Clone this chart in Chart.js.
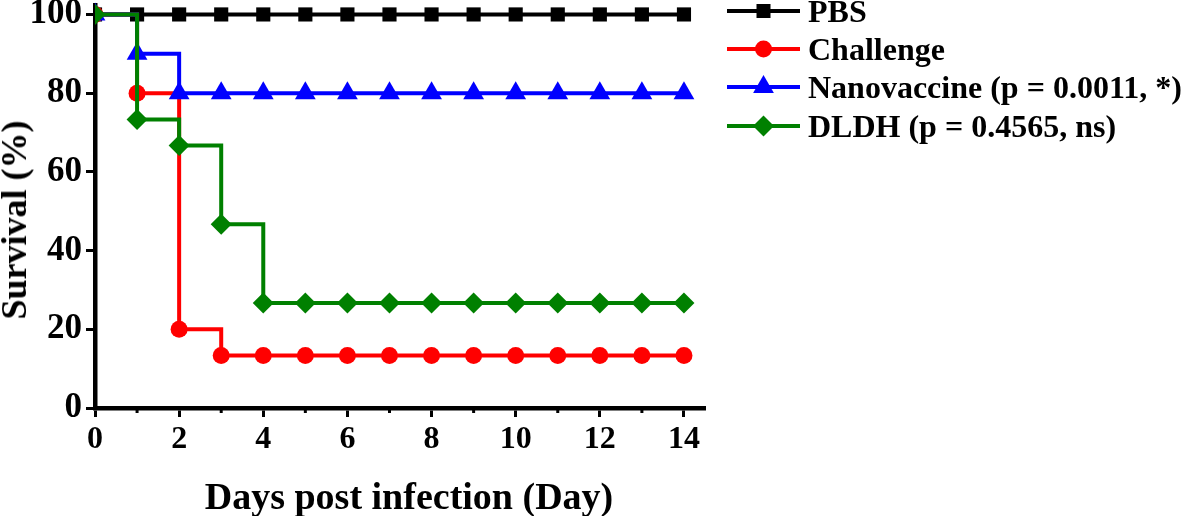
<!DOCTYPE html>
<html>
<head>
<meta charset="utf-8">
<script src="https://cdn.jsdelivr.net/npm/chart.js@4.4.1/dist/chart.umd.min.js"></script>
<style>
  html, body { margin: 0; padding: 0; background: #fff; }
  #wrap { position: relative; width: 1181px; height: 516px; overflow: hidden; }
  #c { position: absolute; left: 0; top: 0; }
  .txt { position: absolute; font-family: "Liberation Serif", "Times New Roman", serif; font-weight: bold; color: #000; white-space: nowrap; line-height: 1; }
  #ytitle { font-size: 36px; left: 14px; top: 220px; transform: translate(-50%, -50%) rotate(-90deg); }
  #xtitle { font-size: 38px; left: 409px; top: 496px; transform: translate(-50%, -50%); }
  .row { position: absolute; left: 727px; height: 30px; display: flex; align-items: center; font-size: 32px; }
  .row svg { margin-right: 8px; flex: none; }
</style>
</head>
<body>
<div id="wrap">
  <canvas id="c" width="1181" height="516"></canvas>
  <div class="txt" id="ytitle">Survival (%)</div>
  <div class="txt" id="xtitle">Days post infection (Day)</div>
  <div id="legend"></div>
</div>
<script>
// survival data (%)
const days = [0, 1, 2, 3, 4, 5, 6, 7, 8, 9, 10, 11, 12, 13, 14];
const pbs = [100, 100, 100, 100, 100, 100, 100, 100, 100, 100, 100, 100, 100, 100, 100];
const challenge = [100, 80, 20, 13.33, 13.33, 13.33, 13.33, 13.33, 13.33, 13.33, 13.33, 13.33, 13.33, 13.33, 13.33];
const nanovaccine = [100, 90, 80, 80, 80, 80, 80, 80, 80, 80, 80, 80, 80, 80, 80];
const dldh = [100, 73.33, 66.67, 46.67, 26.67, 26.67, 26.67, 26.67, 26.67, 26.67, 26.67, 26.67, 26.67, 26.67, 26.67];

const seriesNames = ['PBS', 'Challenge', 'Nanovaccine (p = 0.0011, *)', 'DLDH (p = 0.4565, ns)'];
const yTicks = [0, 20, 40, 60, 80, 100];
const xTicks = [0, 1, 2, 3, 4, 5, 6, 7, 8, 9, 10, 11, 12, 13, 14];

const font = '"Liberation Serif", "Times New Roman", serif';

function pts(vals) {
  return days.map((d, i) => ({ x: d, y: vals[i] }));
}

function series(label, vals, color, style, radius, order) {
  return {
    label: label,
    data: pts(vals),
    borderColor: color,
    backgroundColor: color,
    borderWidth: 4,
    stepped: true,
    fill: false,
    pointStyle: style,
    pointRadius: radius,
    pointHoverRadius: radius,
    pointBorderWidth: 0,
    clip: { left: 0, top: 20, right: 20, bottom: 20 },
    order: order
  };
}

// small minor ticks on odd days
const minorTicks = {
  id: 'minorTicks',
  afterDraw(chart) {
    const sx = chart.scales.x;
    const ctx = chart.ctx;
    ctx.save();
    ctx.strokeStyle = '#000';
    ctx.lineWidth = 3;
    xTicks.forEach(v => {
      if (v % 2 === 1) {
        const px = sx.getPixelForValue(v);
        ctx.beginPath();
        ctx.moveTo(px, sx.top);
        ctx.lineTo(px, sx.top + 5);
        ctx.stroke();
      }
    });
    ctx.restore();
  }
};

new Chart(document.getElementById('c'), {
  type: 'line',
  data: {
    datasets: [
      series(seriesNames[0], pbs, '#000000', 'rect', 10, 3),
      series(seriesNames[1], challenge, '#ff0000', 'circle', 8.5, 2),
      series(seriesNames[2], nanovaccine, '#0000ff', 'triangle', 12, 1),
      series(seriesNames[3], dldh, '#008000', 'rectRot', 10.5, 0)
    ]
  },
  options: {
    responsive: false,
    animation: false,
    devicePixelRatio: 1,
    layout: { autoPadding: false, padding: { left: 0, top: 5, right: 476, bottom: 0 } },
    plugins: { legend: { display: false }, tooltip: { enabled: false } },
    scales: {
      x: {
        type: 'linear',
        min: 0,
        max: 14.5,
        afterBuildTicks: s => { s.ticks = xTicks.map(v => ({ value: v })); },
        afterFit: s => { s.height = 108; s.paddingLeft = 0; s.paddingRight = 0; },
        grid: {
          drawOnChartArea: false,
          drawTicks: true,
          tickLength: 9,
          tickWidth: 3,
          tickColor: c => (c.tick && c.tick.value % 2 === 0) ? '#000' : 'rgba(0,0,0,0)'
        },
        border: { display: true, color: '#000', width: 4.5 },
        ticks: {
          autoSkip: false,
          maxRotation: 0,
          padding: 4,
          color: '#000',
          font: { family: font, size: 32, weight: 'bold' },
          callback: v => (v % 2 === 0 ? String(v) : '')
        }
      },
      y: {
        type: 'linear',
        min: 0,
        max: 102.4,
        afterBuildTicks: s => { s.ticks = yTicks.map(v => ({ value: v })); },
        afterFit: s => { s.width = 95; s.paddingTop = 0; s.paddingBottom = 0; },
        grid: {
          drawOnChartArea: false,
          drawTicks: true,
          tickLength: 9,
          tickWidth: 3,
          tickColor: '#000'
        },
        border: { display: true, color: '#000', width: 4.5 },
        ticks: {
          padding: 4,
          color: '#000',
          font: { family: font, size: 35, weight: 'bold' }
        }
      }
    }
  },
  plugins: [minorTicks]
});

// legend: line sample with marker, then the label text
const legendColors = ['#000000', '#ff0000', '#0000ff', '#008000'];
const legendCenters = [11, 49, 87, 126];
function markerSvg(i, color) {
  const cx = 36.5, cy = 12;
  let m;
  if (i === 0) m = `<rect x="${cx - 7}" y="${cy - 7}" width="14" height="14" fill="${color}"/>`;
  else if (i === 1) m = `<circle cx="${cx}" cy="${cy}" r="8.5" fill="${color}"/>`;
  else if (i === 2) m = `<polygon points="${cx},${cy - 12} ${cx - 10.4},${cy + 6} ${cx + 10.4},${cy + 6}" fill="${color}"/>`;
  else m = `<polygon points="${cx},${cy - 10.5} ${cx + 10.5},${cy} ${cx},${cy + 10.5} ${cx - 10.5},${cy}" fill="${color}"/>`;
  return `<svg width="73" height="24" viewBox="0 0 73 24" style="overflow:visible"><line x1="0" y1="${cy}" x2="73" y2="${cy}" stroke="${color}" stroke-width="4"/>${m}</svg>`;
}
const legend = document.getElementById('legend');
seriesNames.forEach((name, i) => {
  const row = document.createElement('div');
  row.className = 'row txt';
  row.style.top = (legendCenters[i] - 15) + 'px';
  row.innerHTML = markerSvg(i, legendColors[i]) + '<span>' + name + '</span>';
  legend.appendChild(row);
});
</script>
</body>
</html>
